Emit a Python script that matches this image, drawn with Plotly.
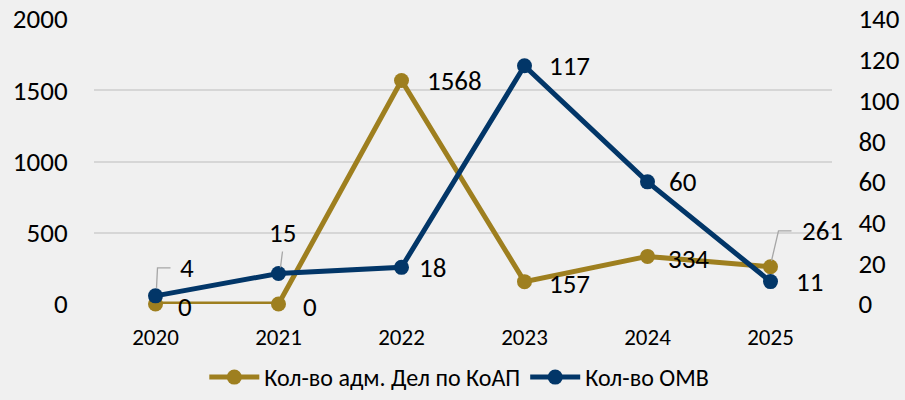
import plotly.graph_objects as go

years = ["2020", "2021", "2022", "2023", "2024", "2025"]
adm_cases = [0, 0, 1568, 157, 334, 261]
omv = [4, 15, 18, 117, 60, 11]
name_adm = "Кол-во адм. Дел по КоАП"
name_omv = "Кол-во ОМВ"

GOLD = "#9E7F1F"
NAVY = "#023668"
FONT = "Carlito, Calibri, Lato, sans-serif"
LBL = 27

fig = go.Figure()
fig.add_trace(go.Scatter(x=years, y=adm_cases, name=name_adm, mode="lines+markers",
                         line=dict(color=GOLD, width=5), marker=dict(color=GOLD, size=15),
                         yaxis="y", cliponaxis=False))
fig.add_trace(go.Scatter(x=years, y=omv, name=name_omv, mode="lines+markers",
                         line=dict(color=NAVY, width=5), marker=dict(color=NAVY, size=15),
                         yaxis="y2", cliponaxis=False))

ann = []
shapes = []
LEAD = dict(color="#A6A6A6", width=1.3)

def label(i, v, yref, xs, ys):
    ann.append(dict(x=i, y=v, xref="x", yref=yref, text=str(v), showarrow=False,
                    xanchor="left", yanchor="middle", xshift=xs, yshift=ys,
                    font=dict(size=LBL, color="#000", family=FONT)))

def leader(i, v, yref, path):
    shapes.append(dict(type="path", xref="x", yref=yref, xsizemode="pixel", ysizemode="pixel",
                       xanchor=i, yanchor=v, path=path, line=LEAD))

gold_off = [(20, -2), (22, -2), (23, 0), (22, -2), (18, -2), (29, 36)]
for i, (v, (xs, ys)) in enumerate(zip(adm_cases, gold_off)):
    label(i, v, "y", xs, ys)
leader(5, adm_cases[5], "y", "M 1,6 L 8,36 L 21,36")

navy_off = [(22, 28), (-12, 41), (15, 0), (22, 0), (19, 0), (23, 0)]
for i, (v, (xs, ys)) in enumerate(zip(omv, navy_off)):
    label(i, v, "y2", xs, ys)
leader(0, omv[0], "y2", "M 1,8 L 2,28 L 15,28")
leader(1, omv[1], "y2", "M 2,6 L 4,22")

fig.update_layout(
    width=905, height=400,
    margin=dict(l=94, r=73, t=19, b=96, autoexpand=False),
    paper_bgcolor="#F0F0F0", plot_bgcolor="#F0F0F0",
    font=dict(family=FONT, color="#000"),
    showlegend=True,
    legend=dict(orientation="h", x=0.495, xanchor="center",
                yref="container", y=0.0, yanchor="bottom",
                font=dict(size=24, family=FONT), itemwidth=50, bgcolor="rgba(0,0,0,0)"),
    xaxis=dict(type="category", range=[-0.5, 5.5], showgrid=False, zeroline=False, showline=False,
               automargin=False, tickfont=dict(size=23, family=FONT), ticks="outside",
               tickcolor="rgba(0,0,0,0)", ticklen=12),
    yaxis=dict(range=[0, 2000], dtick=500, showgrid=True, gridcolor="#D6D6D6", gridwidth=1.5,
               automargin=False, zeroline=False, showline=False, tickfont=dict(size=27, family=FONT),
               ticks="outside", tickcolor="rgba(0,0,0,0)", ticklen=20),
    yaxis2=dict(range=[0, 140], dtick=20, overlaying="y", side="right", showgrid=False,
                automargin=False, zeroline=False, showline=False, tickfont=dict(size=27, family=FONT),
                ticks="outside", tickcolor="rgba(0,0,0,0)", ticklen=20),
    annotations=ann,
    shapes=shapes,
)
fig.write_html("out.html")
